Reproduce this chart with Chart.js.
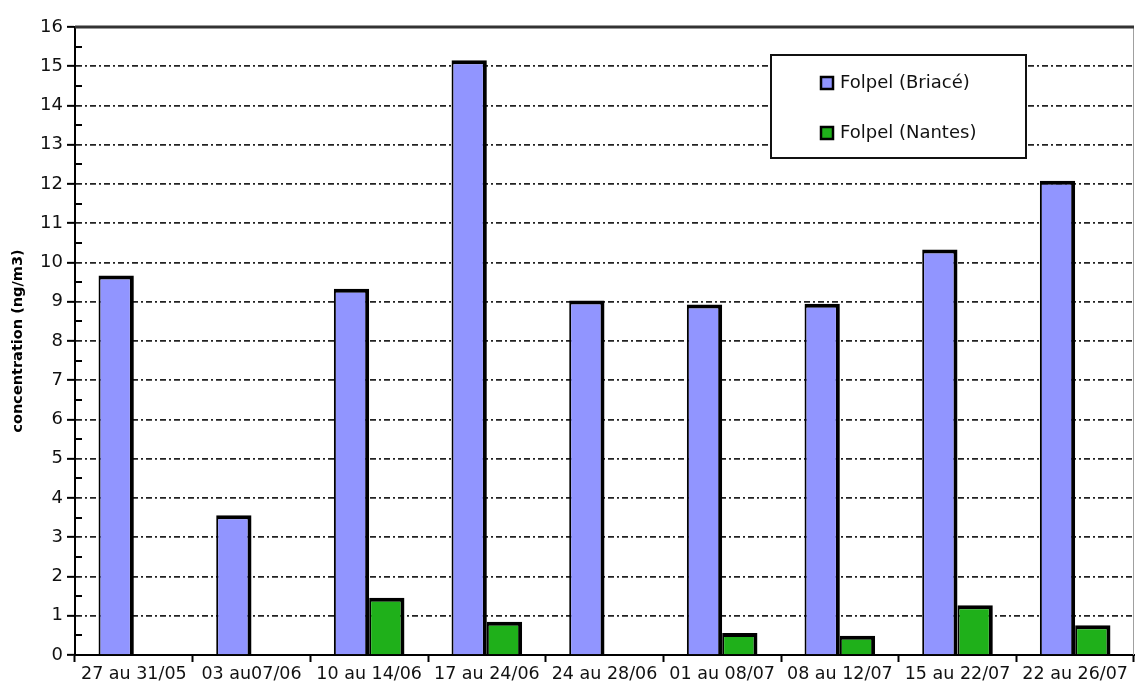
<!DOCTYPE html>
<html>
<head>
<meta charset="utf-8">
<script src="https://cdn.jsdelivr.net/npm/chart.js@4.4.1/dist/chart.umd.min.js"></script>
<style>
  html, body { margin: 0; padding: 0; background: #fff; }
  #wrap { width: 1135px; height: 691px; }
</style>
</head>
<body>
<div id="wrap"><canvas id="c" width="1135" height="691"></canvas></div>
<script>
// Sampling periods (weekly)
const periods = ['27 au 31/05', '03 au07/06', '10 au 14/06', '17 au 24/06', '24 au 28/06',
                 '01 au 08/07', '08 au 12/07', '15 au 22/07', '22 au 26/07'];
// Folpel concentrations, ng/m3
const briace = [9.67, 3.56, 9.33, 15.15, 9.03, 8.93, 8.95, 10.33, 12.08];
const nantes = [null, null, 1.46, 0.85, null, 0.56, 0.49, 1.27, 0.76];
const seriesNames = ['Folpel (Briacé)', 'Folpel (Nantes)'];
const seriesColors = ['#9195ff', '#1fb01a'];
const yMin = 0, yMax = 16, yStep = 1;
const yTitle = 'concentration (ng/m3)';

const FONT = "'DejaVu Sans', 'Liberation Sans', sans-serif";

// Frame, half-unit minor ticks and boxed legend
const framePlugin = {
  id: 'frame',
  beforeDatasetsDraw(chart) {
    const { ctx, chartArea: a } = chart;
    ctx.save();
    ctx.strokeStyle = '#a0a0a0';
    ctx.lineWidth = 1;
    ctx.beginPath();
    ctx.moveTo(a.right - 0.5, a.top);
    ctx.lineTo(a.right - 0.5, a.bottom);
    ctx.stroke();
    ctx.restore();
  },
  afterDatasetsDraw(chart, args, opts) {
    const { ctx, chartArea: a, scales } = chart;
    const y = scales.y;
    ctx.save();
    // solid top edge
    ctx.strokeStyle = '#333';
    ctx.lineWidth = 3;
    ctx.beginPath();
    ctx.moveTo(a.left, a.top);
    ctx.lineTo(a.right, a.top);
    ctx.stroke();
    // minor ticks inside the left axis
    ctx.strokeStyle = '#000';
    ctx.lineWidth = 2;
    for (let v = yMin + yStep / 2; v < yMax; v += yStep) {
      const py = Math.round(y.getPixelForValue(v));
      ctx.beginPath();
      ctx.moveTo(a.left, py);
      ctx.lineTo(a.left + 7, py);
      ctx.stroke();
    }
    // legend box
    const b = opts.box;
    ctx.fillStyle = '#fff';
    ctx.fillRect(b.x, b.y, b.w, b.h);
    ctx.strokeStyle = '#111';
    ctx.lineWidth = 2;
    ctx.strokeRect(b.x, b.y, b.w, b.h);
    ctx.font = "18px " + FONT;
    ctx.textBaseline = 'middle';
    ctx.textAlign = 'left';
    chart.data.datasets.forEach((ds, i) => {
      const cy = b.y + opts.firstRow + i * opts.rowGap;
      ctx.fillStyle = ds.backgroundColor;
      ctx.fillRect(opts.markerX, cy - 6, 12, 12);
      ctx.strokeStyle = '#000';
      ctx.lineWidth = 2.5;
      ctx.strokeRect(opts.markerX, cy - 6, 12, 12);
      ctx.fillStyle = '#111';
      ctx.fillText(ds.label, opts.markerX + 19, cy);
    });
    ctx.restore();
  }
};

const barBorder = { top: 4, right: 4, left: 2, bottom: 0 };

new Chart(document.getElementById('c'), {
  type: 'bar',
  data: {
    labels: periods,
    datasets: [
      { label: seriesNames[0], data: briace, backgroundColor: seriesColors[0],
        borderColor: '#000', borderWidth: barBorder, borderSkipped: false, inflateAmount: 0 },
      { label: seriesNames[1], data: nantes, backgroundColor: seriesColors[1],
        borderColor: '#000', borderWidth: barBorder, borderSkipped: false, inflateAmount: 0 }
    ]
  },
  options: {
    responsive: false,
    animation: false,
    devicePixelRatio: 1,
    layout: { padding: { top: 27, right: 1, left: 0, bottom: 0 } },
    datasets: { bar: { categoryPercentage: 0.6, barPercentage: 1.0 } },
    plugins: {
      legend: { display: false },
      tooltip: { enabled: false },
      frame: {
        box: { x: 771, y: 55, w: 255, h: 103 },
        markerX: 821,
        firstRow: 28,
        rowGap: 50
      }
    },
    scales: {
      x: {
        afterFit(s) { s.height = 36; },
        grid: { display: true, drawOnChartArea: false, drawTicks: true, tickLength: 7,
                tickColor: '#000', tickWidth: 2, offset: true },
        border: { display: true, color: '#000', width: 2 },
        ticks: { color: '#111', font: { family: FONT, size: 17.5 }, padding: 2,
                 maxRotation: 0, autoSkip: false }
      },
      y: {
        min: yMin, max: yMax,
        afterFit(s) { s.width = 75; },
        grid: {
          drawOnChartArea: true, drawTicks: true, tickLength: 8,
          color: (c) => (c.tick && (c.tick.value === yMax || c.tick.value === yMin)) ? 'rgba(0,0,0,0)' : '#222',
          lineWidth: 1.7,
          tickColor: '#000', tickWidth: 2
        },
        border: { display: true, color: '#000', width: 2, dash: [6, 3, 2, 3] },
        ticks: { stepSize: yStep, color: '#111', font: { family: FONT, size: 18 }, padding: 4 },
        title: { display: true, text: yTitle, color: '#000',
                 font: { family: FONT, size: 14.5, weight: 'bold' }, padding: { top: 10, bottom: 0 } }
      }
    }
  },
  plugins: [framePlugin]
});
</script>
</body>
</html>
